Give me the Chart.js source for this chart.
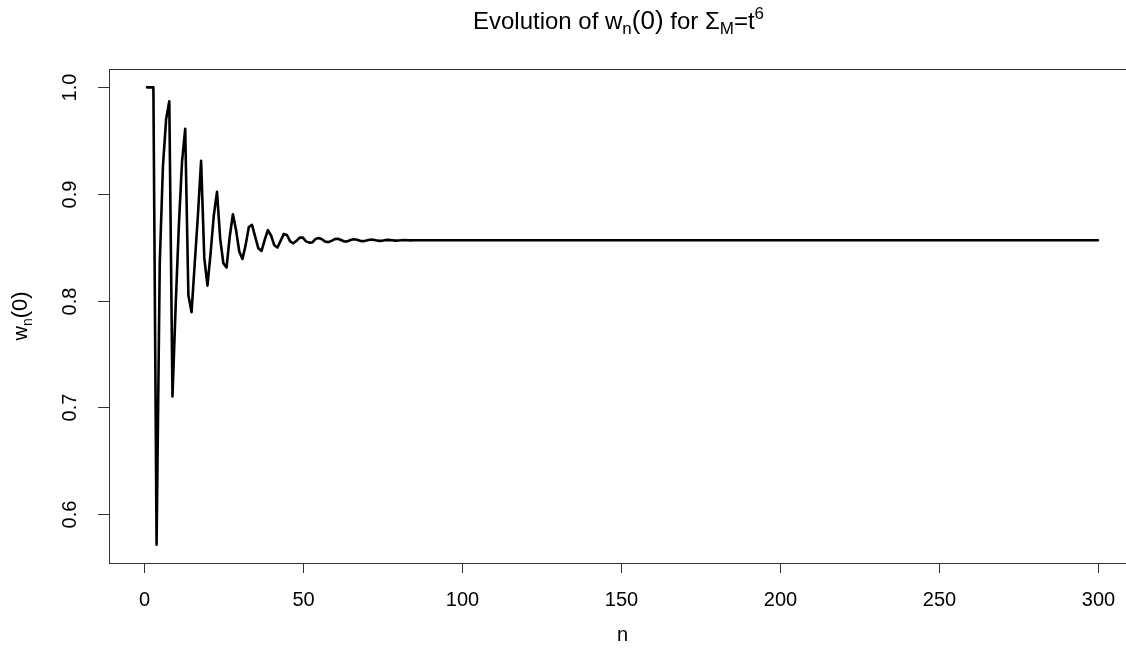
<!DOCTYPE html>
<html>
<head>
<meta charset="utf-8">
<script src="https://cdn.jsdelivr.net/npm/chart.js@4.4.1/dist/chart.umd.min.js"></script>
<style>
  html, body { margin: 0; padding: 0; background: #fff; overflow: hidden; }
  #wrap { width: 1126px; height: 662px; overflow: hidden; }
</style>
</head>
<body>
<div id="wrap"><canvas id="plot" width="1150" height="662"></canvas></div>
<script>
// n (iteration) and w_n(0)
const nValues = [
  1, 2, 3, 4, 5, 6, 7, 8, 9, 10,
  11, 12, 13, 14, 15, 16, 17, 18, 19, 20,
  21, 22, 23, 24, 25, 26, 27, 28, 29, 30,
  31, 32, 33, 34, 35, 36, 37, 38, 39, 40,
  41, 42, 43, 44, 45, 46, 47, 48, 49, 50,
  51, 52, 53, 54, 55, 56, 57, 58, 59, 60,
  61, 62, 63, 64, 65, 66, 67, 68, 69, 70,
  71, 72, 73, 74, 75, 76, 77, 78, 79, 80,
  81, 82, 83, 84, 85, 100, 150, 200, 250, 300
];
const wValues = [
  1.000, 1.000, 1.000, 0.571, 0.835, 0.926, 0.970, 0.987, 0.710, 0.795,
  0.870, 0.930, 0.961, 0.805, 0.789, 0.835, 0.880, 0.931, 0.840, 0.814,
  0.845, 0.880, 0.902, 0.858, 0.835, 0.831, 0.860, 0.881, 0.866, 0.846,
  0.839, 0.852, 0.869, 0.871, 0.860, 0.849, 0.8465, 0.857, 0.866, 0.861,
  0.852, 0.8497, 0.856, 0.8625, 0.8615, 0.8555, 0.8537, 0.856, 0.859, 0.859,
  0.8555, 0.8543, 0.8545, 0.8578, 0.8587, 0.8575, 0.8553, 0.8548, 0.8560, 0.8576,
  0.8580, 0.8568, 0.8554, 0.8555, 0.8568, 0.8575, 0.8570, 0.8560, 0.8557, 0.8563,
  0.8570, 0.8571, 0.8565, 0.8560, 0.8561, 0.8567, 0.8569, 0.8566, 0.8562, 0.8563,
  0.8566, 0.8567, 0.8565, 0.8564, 0.8565, 0.8565, 0.8565, 0.8565, 0.8565, 0.8565
];

const xTicks = [0, 50, 100, 150, 200, 250, 300];
const yTicks = [0.6, 0.7, 0.8, 0.9, 1.0];
const yTickLabels = ["0.6", "0.7", "0.8", "0.9", "1.0"];

const FONT = '"Liberation Sans", Arial, Helvetica, sans-serif';

// draws a run of text pieces (normal / sub / sup) centred on x
function richText(ctx, parts, x, y) {
  let total = 0;
  parts.forEach(p => {
    ctx.font = p.size + "px " + FONT;
    p.w = ctx.measureText(p.t).width;
    total += p.w;
  });
  let cx = x - total / 2;
  ctx.textAlign = "left";
  ctx.textBaseline = "alphabetic";
  parts.forEach(p => {
    ctx.font = p.size + "px " + FONT;
    ctx.fillText(p.t, cx, y + (p.dy || 0));
    cx += p.w;
  });
}

const rFrame = {
  id: "rFrame",
  afterDraw(chart) {
    const ctx = chart.ctx;
    const a = chart.chartArea;
    const xs = chart.scales.x, ys = chart.scales.y;
    ctx.save();
    ctx.strokeStyle = "#333";
    ctx.lineWidth = 1;
    ctx.strokeRect(Math.round(a.left) + 0.5, Math.round(a.top) + 0.5,
                   Math.round(a.right - a.left), Math.round(a.bottom - a.top));

    ctx.fillStyle = "#000";
    ctx.font = "20px " + FONT;
    // x axis
    xTicks.forEach(v => {
      const px = Math.round(xs.getPixelForValue(v)) + 0.5;
      ctx.beginPath();
      ctx.moveTo(px, a.bottom);
      ctx.lineTo(px, a.bottom + 10);
      ctx.stroke();
      ctx.textAlign = "center";
      ctx.textBaseline = "alphabetic";
      ctx.fillText(String(v), px, a.bottom + 43);
    });
    // y axis, labels parallel to the axis
    yTicks.forEach((v, i) => {
      const py = Math.round(ys.getPixelForValue(v)) + 0.5;
      ctx.beginPath();
      ctx.moveTo(a.left, py);
      ctx.lineTo(a.left - 11, py);
      ctx.stroke();
      ctx.save();
      ctx.translate(a.left - 33, py);
      ctx.rotate(-Math.PI / 2);
      ctx.textAlign = "center";
      ctx.textBaseline = "alphabetic";
      ctx.fillText(yTickLabels[i], 0, 0);
      ctx.restore();
    });

    const midX = (a.left + a.right) / 2;
    const midY = (a.top + a.bottom) / 2;

    // title
    richText(ctx, [
      { t: "Evolution of w", size: 24 },
      { t: "n", size: 17, dy: 5 },
      { t: "(0)", size: 26 },
      { t: " for \u03A3", size: 24 },
      { t: "M", size: 17, dy: 5 },
      { t: "=t", size: 24 },
      { t: "6", size: 17, dy: -10 }
    ], midX - 4, 29);

    // axis titles
    ctx.font = "20px " + FONT;
    ctx.textAlign = "center";
    ctx.fillText("n", midX, 641);

    ctx.save();
    ctx.translate(27, midY);
    ctx.rotate(-Math.PI / 2);
    richText(ctx, [
      { t: "w", size: 20 },
      { t: "n", size: 14, dy: 5 },
      { t: "(0)", size: 22 }
    ], 0, 0);
    ctx.restore();
    ctx.restore();
  }
};

new Chart(document.getElementById("plot").getContext("2d"), {
  type: "line",
  data: {
    datasets: [{
      data: nValues.map((n, i) => ({ x: n, y: wValues[i] })),
      borderColor: "#000",
      borderWidth: 2.6,
      borderJoinStyle: "round",
      borderCapStyle: "round",
      pointRadius: 0,
      tension: 0,
      fill: false,
    }],
  },
  options: {
    responsive: false,
    animation: false,
    devicePixelRatio: 1,
    layout: { padding: { left: 109, right: 14, top: 69, bottom: 99 } },
    plugins: {
      legend: { display: false },
      tooltip: { enabled: false },
    },
    scales: {
      x: { type: "linear", min: -10.96, max: 311.96, display: false },
      y: { min: 0.5538, max: 1.0172, display: false },
    },
  },
  plugins: [rFrame],
});
</script>
</body>
</html>
